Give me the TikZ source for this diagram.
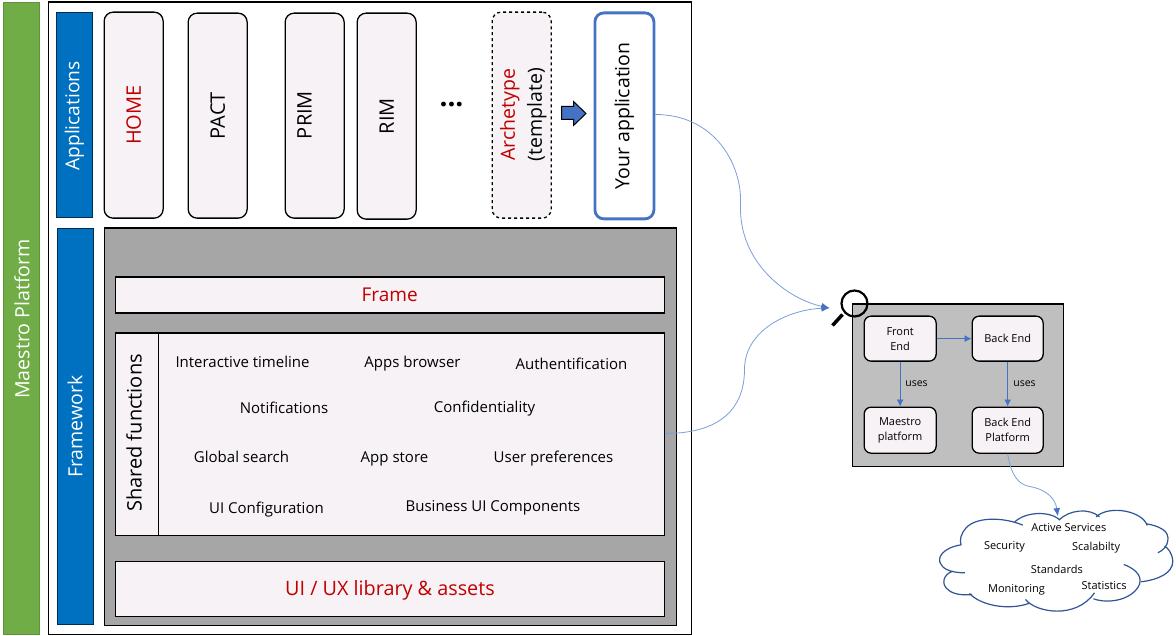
\documentclass[tikz,border=0pt]{standalone}
\usepackage{fontspec}
\setmainfont{Open Sans}
\definecolor{barblue}{HTML}{0070C0}
\definecolor{bargreen}{HTML}{70AD47}
\definecolor{boxfill}{HTML}{F6F2F6}
\definecolor{redtxt}{HTML}{C00000}
\definecolor{biggray}{HTML}{A6A6A6}
\definecolor{smallgray}{HTML}{BFBFBF}
\definecolor{conn}{HTML}{4472C4}
\definecolor{connlight}{HTML}{7C9FDC}
\definecolor{cloudblue}{HTML}{2F5597}
\newcommand{\fs}[1]{\fontsize{#1}{15}\selectfont}
\usetikzlibrary{arrows.meta}
\tikzset{
  at box/.style n args={4}{minimum width=#3-#1, minimum height=#4-#2, anchor=north west, at={(#1,#2)}},
  bar/.style={draw=black!60!barblue, fill=barblue, line width=.6pt, text=white, inner sep=0pt},
  appbox/.style={draw=black, fill=boxfill, line width=1.3pt, rounded corners=9pt, inner sep=0pt},
  flat/.style={draw=black, fill=boxfill, line width=1.3pt, inner sep=0pt},
  smallbox/.style={draw=black, fill=boxfill, line width=1.3pt, rounded corners=7pt, inner sep=0pt, align=center, font=\fs{11}},
  fn/.style={font=\fs{15}, inner sep=0pt},
  cl/.style={font=\fs{11}, inner sep=0pt},
  uses/.style={font=\fs{10.5}, inner sep=0pt},
  curveconn/.style={draw=connlight, line width=.8pt, -{Latex[length=8pt,width=7pt,fill=conn,color=conn]}},
  straight/.style={draw=conn, line width=.9pt, -{Latex[length=7pt,width=7pt]}},
}
\begin{document}
\begin{tikzpicture}[x=1pt,y=-1pt]
\useasboundingbox (.5,.5) rectangle (1176.5,636.5);
\fill[white] (.5,.5) rectangle (1176.5,636.5);
% left bars
\node[at box={3}{3}{39}{634}, draw=bargreen!85!black, fill=bargreen, line width=.6pt, text=white, inner sep=0pt] (platform) {};
\node[inner sep=0pt, text=white] (platformtxt) at (22.5,319.5) {\rotatebox{90}{\fs{19.6}Maestro Platform}};
\node[at box={48}{2}{691}{634}, draw=black, line width=1.3pt, fill=white] (frameall) {};
\node[at box={56}{13}{92}{218}, bar] (apps) {};
\node[inner sep=0pt, text=white] (appstxt) at (75,116.5) {\rotatebox{90}{\fs{19.2}Applications}};
\node[at box={57}{229}{93}{624}, bar] (fw) {};
\node[inner sep=0pt, text=white] (fwtxt) at (75.5,427) {\rotatebox{90}{\fs{19.5}Framework}};
% applications
\node[at box={104}{12}{163}{218}, appbox] (home) {\rotatebox{90}{\fs{20}\textcolor{redtxt}{HOME}}};
\node[at box={188}{13}{247}{218}, appbox] (pact) {\rotatebox{90}{\fs{20}PACT}};
\node[at box={285}{13}{344}{218}, appbox] (prim) {};
\node[inner sep=0pt] (primtxt) at (305,115.5) {\rotatebox{90}{\fs{20}PRIM}};
\node[at box={357}{13}{416}{219}, appbox] (rim) {\rotatebox{90}{\fs{20}RIM}};
\node[inner sep=0pt, font=\fs{28}\bfseries] (dots) at (452,105) {...};
\node[at box={492}{12}{551}{218}, appbox, dashed] (arch) {};
\node[inner sep=0pt] (archtxt) at (523.5,115) {\rotatebox{90}{\fontsize{19.5}{27}\selectfont\begin{tabular}{@{}c@{}}\textcolor{redtxt}{Archetype}\\(template)\end{tabular}}};
\node[at box={594}{12}{653}{218}, draw=conn, fill=white, line width=2.8pt, rounded corners=9pt, inner sep=0pt] (your) {\rotatebox{90}{\fs{19.5}Your application}};
\draw[fill=conn, draw=black, line width=1pt, line join=miter] (562,107) -- (574,107) -- (574,102) -- (586.5,114) -- (574,126) -- (574,120) -- (562,120) -- cycle;
% framework
\node[at box={104}{228}{676}{625}, draw=black, fill=biggray, line width=1.3pt] (fwbg) {};
\node[at box={115}{277}{664}{313}, flat] (frame) {\fs{19}\textcolor{redtxt}{Frame}};
\node[at box={115}{333}{664}{535}, flat] (shared) {};
\node[at box={115}{333}{158}{535}, flat] (sharedhead) {};
\node[inner sep=0pt] (sharedtxt) at (134.5,433.5) {\rotatebox{90}{\fs{20}Shared functions}};
\node[at box={115}{561}{664}{616}, flat] (uiux) {};
\node[inner sep=0pt] (uiuxtxt) at (390.5,590.5) {\fs{19.8}\textcolor{redtxt}{UI / UX library \& assets}};
\node[fn] (f1) at (243,362) {Interactive timeline};
\node[fn] (f2) at (413,364) {Apps browser};
\node[fn] (f3) at (572,364) {Authentification};
\node[fn] (f4) at (284.5,408) {Notifications};
\node[fn] (f5) at (485,409) {Confidentiality};
\node[fn] (f6) at (242,457) {Global search};
\node[fn] (f7) at (395,459) {App store};
\node[fn] (f8) at (554,459) {User preferences};
\node[fn] (f9) at (267,510) {UI Configuration};
\node[fn] (f10) at (493.5,508) {Business UI Components};
% detail panel
\node[at box={852}{304}{1063}{466}, draw=black, fill=smallgray, line width=1.3pt] (panel) {};
\node[at box={864}{316}{936}{361}, smallbox] (fe) {Front\\End};
\node[at box={972}{316}{1043}{361}, smallbox] (be) {Back End};
\node[at box={864}{407}{936}{453}, smallbox] (mp) {Maestro\\platform};
\node[at box={972}{407}{1043}{453}, smallbox] (bep) {Back End\\Platform};
\draw[straight] (fe.east) -- (be.west);
\draw[straight] (fe.south) -- (mp.north);
\draw[straight] (be.south) -- (bep.north);
\node[uses] (u1) at (917,384) {uses};
\node[uses] (u2) at (1025,384) {uses};
% magnifier
\coordinate (lens) at (855,304);
\coordinate (handleA) at (843,315);
\coordinate (handleB) at (833,326);
\draw[black, line width=2.2pt] (lens) circle (13);
\draw[black, line width=3.5pt] (handleA) -- (handleB);
% curves
\coordinate (focus) at (830,308.5);
\draw[curveconn] (your.east |- 0,115) .. controls (715,115) and (743,165) .. (741,205) .. controls (739,265) and (790,300) .. (focus);
\draw[curveconn] (shared.east |- 0,434) .. controls (735,434) and (745,395) .. (745,370) .. controls (745,330) and (790,310) .. (focus);
% cloud
\begin{scope}[shift={(780,280)}, x=.3333pt, y=-.3333pt]
\coordinate (cloudtop) at (835,710);
\draw[cloudblue, line width=1.2pt]
 (730,737) .. controls (670,712) and (590,712) .. (560,745) .. controls (543,765) and (540,780) .. (545,798)
 (545,796) .. controls (490,805) and (470,835) .. (485,855) .. controls (495,875) and (530,880) .. (556,880)
 (520,875) .. controls (490,885) and (485,915) .. (505,930) .. controls (520,945) and (550,948) .. (578,945)
 (570,942) .. controls (600,975) and (680,995) .. (748,972)
 (738,960) .. controls (770,1000) and (890,1020) .. (945,940)
 (942,958) .. controls (990,975) and (1060,960) .. (1080,915) .. controls (1090,885) and (1060,865) .. (1033,855)
 (1085,907) .. controls (1140,900) and (1180,880) .. (1180,845) .. controls (1178,820) and (1165,805) .. (1155,800)
 (1135,820) .. controls (1170,805) and (1175,765) .. (1150,750) .. controls (1135,740) and (1115,735) .. (1100,733)
 (1103,738) .. controls (1090,695) and (990,675) .. (950,712)
 (960,712) .. controls (930,685) and (870,690) .. (838,722)
 (840,720) .. controls (810,695) and (740,695) .. (705,728);
\node[cl] (c1) at (868,743) {Active Services};
\node[cl] (c2) at (675,802) {Security};
\node[cl] (c3) at (950,804) {Scalabilty};
\node[cl] (c4) at (832,869) {Standards};
\node[cl] (c5) at (974,917) {Statistics};
\node[cl] (c6) at (711,932) {Monitoring};
\end{scope}
\draw[curveconn] (bep.south) .. controls (1012,478) and (1020,485) .. (1030,487) .. controls (1048,490) and (1056,500) .. (cloudtop);
\end{tikzpicture}
\end{document}
